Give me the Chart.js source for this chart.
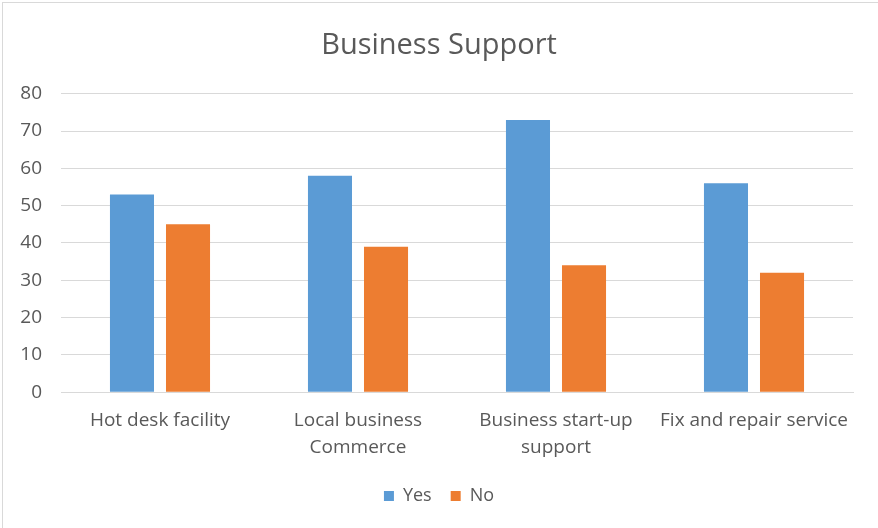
<!DOCTYPE html>
<html lang="en">
<head>
    <meta charset="UTF-8">
    <title>Business Support</title>
    <script src="https://cdn.jsdelivr.net/npm/chart.js"></script>
    <style>
        body { margin: 0; background: #ffffff; overflow: hidden; }
        #wrap { position: absolute; left: 0; top: 0; width: 878px; height: 528px; }
    </style>
</head>
<body>
    <div id="wrap"><canvas id="supportChart"></canvas></div>
    <script>
        const categories = ['Hot desk facility', ['Local business', 'Commerce'], ['Business start-up', 'support'], 'Fix and repair service'];
        const yesValues = [53, 58, 73, 56];
        const noValues = [45, 39, 34, 32];
        const yTicks = [0, 10, 20, 30, 40, 50, 60, 70, 80];

        const textColor = '#595959';
        const gridColor = '#d9d9d9';
        const fontFamily = '"Open Sans", sans-serif';

        // light frame around the chart, like the spreadsheet chart border
        const framePlugin = {
            id: 'frame',
            beforeDraw(chart) {
                const c = chart.ctx;
                c.save();
                c.fillStyle = '#ffffff';
                c.fillRect(0, 0, chart.width, chart.height);
                c.strokeStyle = gridColor;
                c.lineWidth = 1;
                c.strokeRect(2.5, 2.5, chart.width + 20, chart.height + 20);
                c.restore();
            }
        };

        const ctx = document.getElementById('supportChart').getContext('2d');
        new Chart(ctx, {
            type: 'bar',
            data: {
                labels: categories,
                datasets: [
                    { label: 'Yes', data: yesValues, backgroundColor: '#5B9BD5', categoryPercentage: 0.566, barPercentage: 0.786 },
                    { label: 'No', data: noValues, backgroundColor: '#ED7D31', categoryPercentage: 0.566, barPercentage: 0.786 }
                ]
            },
            options: {
                responsive: true,
                maintainAspectRatio: false,
                animation: false,
                layout: { padding: { left: 0, right: 0, top: 0, bottom: 13 } },
                plugins: {
                    title: {
                        display: true,
                        text: 'Business Support',
                        color: textColor,
                        font: { family: fontFamily, size: 29, weight: 'normal' },
                        padding: { top: 28, bottom: 31 }
                    },
                    legend: {
                        position: 'bottom',
                        labels: {
                            color: textColor,
                            font: { family: fontFamily, size: 18 },
                            boxWidth: 10,
                            boxHeight: 10,
                            padding: 19
                        }
                    },
                    tooltip: { enabled: false }
                },
                scales: {
                    x: {
                        grid: { display: false },
                        border: { color: gridColor, width: 1 },
                        ticks: {
                            color: textColor,
                            font: { family: fontFamily, size: 19, lineHeight: 1.47 },
                            maxRotation: 0,
                            autoSkip: false,
                            padding: 6
                        }
                    },
                    y: {
                        min: 0,
                        max: 80,
                        afterBuildTicks: (scale) => { scale.ticks = yTicks.map(v => ({ value: v })); },
                        afterFit: (scale) => { scale.width = 61; },
                        grid: { color: gridColor, drawTicks: false },
                        border: { display: false },
                        ticks: {
                            color: textColor,
                            font: { family: fontFamily, size: 19 },
                            padding: 19
                        }
                    },
                    // empty right-hand axis that only reserves the right margin
                    yRight: {
                        position: 'right',
                        display: true,
                        grid: { display: false },
                        border: { display: false },
                        ticks: { display: false },
                        afterFit: (scale) => { scale.width = 25; }
                    }
                }
            },
            plugins: [framePlugin]
        });
    </script>
</body>
</html>
